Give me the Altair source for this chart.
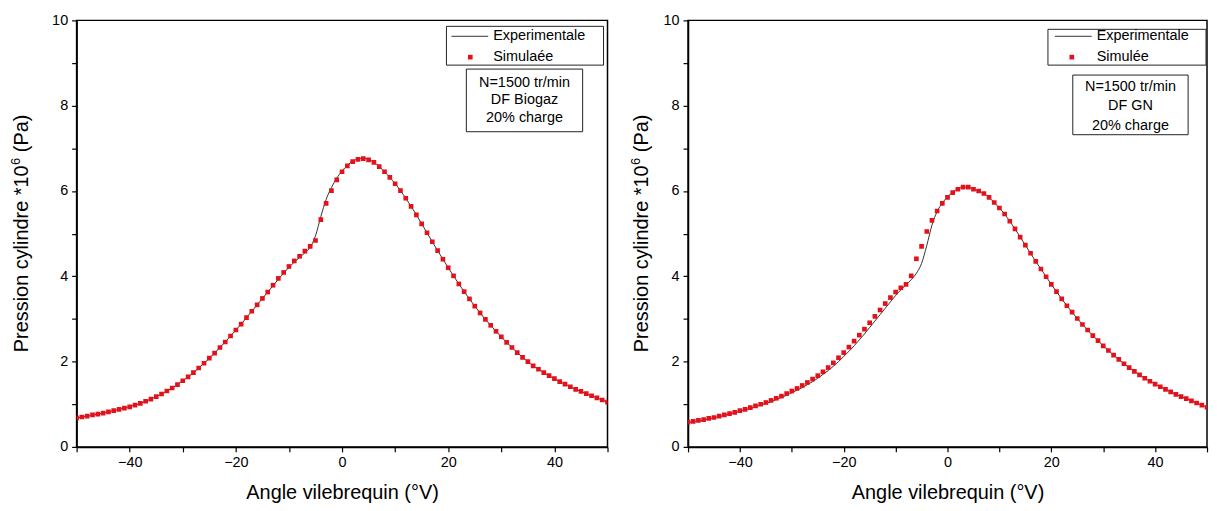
import altair as alt
import pandas as pd

# ---------------- data ----------------
angles = list(range(-50, 51))

bio_sim = [0.68, 0.70, 0.72, 0.75, 0.77, 0.79, 0.82, 0.85, 0.88, 0.91,
           0.94, 0.98, 1.02, 1.07, 1.12, 1.18, 1.24, 1.31, 1.38, 1.46,
           1.55, 1.64, 1.74, 1.85, 1.96, 2.08, 2.20, 2.33, 2.46, 2.60,
           2.74, 2.88, 3.03, 3.18, 3.33, 3.48, 3.63, 3.79, 3.95, 4.09,
           4.23, 4.36, 4.47, 4.59, 4.70, 4.84, 5.33, 5.71, 6.01, 6.26,
           6.45, 6.59, 6.69, 6.74, 6.76, 6.73, 6.67, 6.57, 6.45, 6.32,
           6.17, 6.01, 5.83, 5.64, 5.44, 5.23, 5.02, 4.81, 4.60, 4.40,
           4.20, 4.01, 3.82, 3.64, 3.47, 3.30, 3.14, 2.99, 2.85, 2.71,
           2.58, 2.45, 2.33, 2.21, 2.10, 2.00, 1.90, 1.82, 1.74, 1.67,
           1.60, 1.53, 1.47, 1.41, 1.35, 1.30, 1.25, 1.20, 1.15, 1.10,
           1.05]

bio_exp = [0.68, 0.70, 0.72, 0.74, 0.77, 0.79, 0.82, 0.85, 0.88, 0.91,
           0.95, 0.98, 1.02, 1.07, 1.12, 1.18, 1.24, 1.31, 1.38, 1.46,
           1.55, 1.64, 1.74, 1.85, 1.96, 2.08, 2.20, 2.33, 2.46, 2.60,
           2.74, 2.88, 3.03, 3.18, 3.33, 3.48, 3.63, 3.78, 3.93, 4.07,
           4.21, 4.33, 4.44, 4.55, 4.68, 4.95, 5.40, 5.80, 6.08, 6.30,
           6.47, 6.60, 6.70, 6.75, 6.77, 6.74, 6.67, 6.57, 6.45, 6.32,
           6.17, 6.01, 5.83, 5.64, 5.44, 5.23, 5.02, 4.81, 4.60, 4.40,
           4.20, 4.01, 3.82, 3.64, 3.47, 3.30, 3.14, 2.99, 2.85, 2.71,
           2.58, 2.45, 2.33, 2.21, 2.10, 2.00, 1.90, 1.82, 1.74, 1.67,
           1.60, 1.53, 1.47, 1.41, 1.35, 1.30, 1.25, 1.20, 1.15, 1.10,
           1.05]

gn_sim = [0.58, 0.60, 0.62, 0.64, 0.67, 0.69, 0.72, 0.75, 0.78, 0.81,
          0.85, 0.88, 0.92, 0.96, 1.00, 1.04, 1.09, 1.14, 1.19, 1.25,
          1.31, 1.37, 1.44, 1.51, 1.59, 1.67, 1.76, 1.86, 1.97, 2.09,
          2.21, 2.34, 2.48, 2.62, 2.76, 2.91, 3.06, 3.21, 3.36, 3.50,
          3.63, 3.73, 3.81, 4.01, 4.41, 4.70, 5.05, 5.31, 5.53, 5.71,
          5.85, 5.96, 6.04, 6.09, 6.09, 6.04, 6.00, 5.94, 5.85, 5.73,
          5.60, 5.46, 5.29, 5.11, 4.92, 4.73, 4.54, 4.35, 4.17, 3.99,
          3.81, 3.64, 3.47, 3.31, 3.16, 3.01, 2.87, 2.74, 2.61, 2.49,
          2.37, 2.26, 2.15, 2.05, 1.95, 1.86, 1.77, 1.69, 1.61, 1.54,
          1.47, 1.41, 1.35, 1.29, 1.23, 1.18, 1.13, 1.08, 1.03, 0.98,
          0.93]

gn_exp = [0.57, 0.59, 0.61, 0.63, 0.66, 0.68, 0.71, 0.74, 0.77, 0.80,
          0.83, 0.87, 0.90, 0.94, 0.98, 1.02, 1.06, 1.11, 1.16, 1.21,
          1.27, 1.33, 1.39, 1.46, 1.53, 1.61, 1.70, 1.79, 1.89, 2.00,
          2.12, 2.24, 2.37, 2.51, 2.65, 2.80, 2.95, 3.10, 3.25, 3.40,
          3.55, 3.68, 3.80, 3.92, 4.07, 4.30, 4.72, 5.20, 5.52, 5.72,
          5.86, 5.97, 6.05, 6.09, 6.09, 6.04, 6.00, 5.94, 5.85, 5.73,
          5.60, 5.46, 5.29, 5.11, 4.92, 4.73, 4.54, 4.35, 4.17, 3.99,
          3.81, 3.64, 3.47, 3.31, 3.16, 3.01, 2.87, 2.74, 2.61, 2.49,
          2.37, 2.26, 2.15, 2.05, 1.95, 1.86, 1.77, 1.69, 1.61, 1.54,
          1.47, 1.41, 1.35, 1.29, 1.23, 1.18, 1.13, 1.08, 1.03, 0.98,
          0.93]

x_ticks = list(range(-50, 51, 10))
y_ticks = list(range(0, 11, 1))

legend_line = "Experimentale"
legend_sim_left = "Simulaée"
legend_sim_right = "Simulée"
cond_left = ["N=1500 tr/min", "DF Biogaz", "20% charge"]
cond_right = ["N=1500 tr/min", "DF GN", "20% charge"]

x_title = "Angle vilebrequin (°V)"
y_title_main = "Pression cylindre *10"
y_title_sup = "6"
y_title_end = "(Pa)"

FONT = "Liberation Sans"
RED = "#e4111b"
H = 429
TFS = 20      # axis title font size
SFS = 13      # superscript font size


def panel(sim, exp, sim_label, cond, width, title_dx, leg):
    df = pd.DataFrame({"angle": angles, "sim": sim, "exp": exp})
    xs = alt.Scale(domain=[-50, 50], nice=False, zero=False)
    ys = alt.Scale(domain=[0, 10], nice=False, zero=False)
    xaxis = alt.Axis(values=x_ticks,
                     labelExpr="datum.value % 20 == 0 ? datum.label : ''",
                     title=x_title, titleX=width / 2, titleY=46,
                     titleBaseline="middle", titleAlign="center")
    yaxis = alt.Axis(values=y_ticks,
                     labelExpr="datum.value % 2 == 0 ? datum.label : ''",
                     title=None)

    line = alt.Chart(df).mark_line(color="black", strokeWidth=0.8,
                                   interpolate="monotone", clip=True).encode(
        x=alt.X("angle:Q", scale=xs, axis=xaxis),
        y=alt.Y("exp:Q", scale=ys, axis=yaxis),
    )
    pts = alt.Chart(df).mark_square(size=22, color=RED, opacity=1,
                                    clip=True).encode(
        x=alt.X("angle:Q", scale=xs),
        y=alt.Y("sim:Q", scale=ys),
    )

    one = alt.Chart(pd.DataFrame({"k": [0]}))

    # y-axis title with a real superscript (Arial/Liberation metrics)
    w_main = 9.392 * TFS
    w_sup = 0.556 * SFS
    w_gap = 0.278 * TFS
    w_end = 1.889 * TFS
    y0 = H / 2 + (w_main + w_sup + w_gap + w_end) / 2
    ttl = []
    for txt, fs, dx, yy in [
        (y_title_main, TFS, 0, y0),
        (y_title_sup, SFS, -6, y0 - w_main - 0.5),
        (y_title_end, TFS, 0, y0 - w_main - w_sup - w_gap - 0.5),
    ]:
        ttl.append(one.mark_text(angle=270, align="left", baseline="middle",
                                 fontSize=fs, font=FONT, color="black").encode(
            x=alt.value(title_dx + dx), y=alt.value(yy), text=alt.value(txt)))

    box1 = one.mark_rect(fill="white", stroke="#222", strokeWidth=1).encode(
        x=alt.value(leg["b1"][0]), x2=alt.value(leg["b1"][1]),
        y=alt.value(leg["b1"][2]), y2=alt.value(leg["b1"][3]))
    box2 = one.mark_rect(fill="white", stroke="#222", strokeWidth=1).encode(
        x=alt.value(leg["b2"][0]), x2=alt.value(leg["b2"][1]),
        y=alt.value(leg["b2"][2]), y2=alt.value(leg["b2"][3]))
    sample = one.mark_rule(color="black", strokeWidth=0.8).encode(
        x=alt.value(leg["ln"][0]), x2=alt.value(leg["ln"][1]),
        y=alt.value(leg["ln"][2]))
    marker = one.mark_square(size=22, color=RED, opacity=1).encode(
        x=alt.value(leg["mk"][0]), y=alt.value(leg["mk"][1]))
    t1 = one.mark_text(align="left", baseline="middle", fontSize=14.5,
                       font=FONT, color="black").encode(
        x=alt.value(leg["tx"]), y=alt.value(leg["ln"][2]),
        text=alt.value(legend_line))
    t2 = one.mark_text(align="left", baseline="middle", fontSize=14.5,
                       font=FONT, color="black").encode(
        x=alt.value(leg["tx"]), y=alt.value(leg["mk"][1]),
        text=alt.value(sim_label))
    conds = []
    for i, s in enumerate(cond):
        conds.append(one.mark_text(align="center", baseline="middle",
                                   fontSize=14.5, font=FONT,
                                   color="black").encode(
            x=alt.value(leg["cx"]), y=alt.value(leg["cy"][i]),
            text=alt.value(s)))

    return alt.layer(line, pts, box1, box2, sample, marker, t1, t2,
                     *conds, *ttl).properties(width=width, height=H)


leg_left = {"b1": (372, 530, 6, 45), "ln": (377, 414, 16), "mk": (396, 37),
            "tx": 419, "b2": (392, 509, 49, 112), "cx": 450.5,
            "cy": (63, 80, 98)}
WR = 522
leg_right = {"b1": (WR - 160, WR - 1, 9, 45), "ln": (WR - 153, WR - 116, 16),
             "mk": (WR - 136, 37), "tx": WR - 111,
             "b2": (WR - 135, WR - 19, 55, 115), "cx": WR - 77,
             "cy": (67, 86, 106)}

left = panel(bio_sim, bio_exp, legend_sim_left, cond_left, 534, -55, leg_left)
right = panel(gn_sim, gn_exp, legend_sim_right, cond_right, WR, -46, leg_right)

chart = alt.hconcat(left, right, spacing=20).properties(
    padding={"left": 1, "top": 2, "right": 0, "bottom": 0},
    background="white",
).configure_view(
    stroke="black", strokeWidth=1.5
).configure_axis(
    grid=False, domainColor="black", domainWidth=1.5, tickColor="black",
    tickWidth=1.2, tickSize=5, labelFont=FONT, labelFontSize=14.5,
    labelColor="black", labelPadding=4, titleFont=FONT, titleFontSize=TFS,
    titleFontWeight="normal", titleColor="black",
)

chart.save("out.html", embed_options={"renderer": "svg", "actions": False})
